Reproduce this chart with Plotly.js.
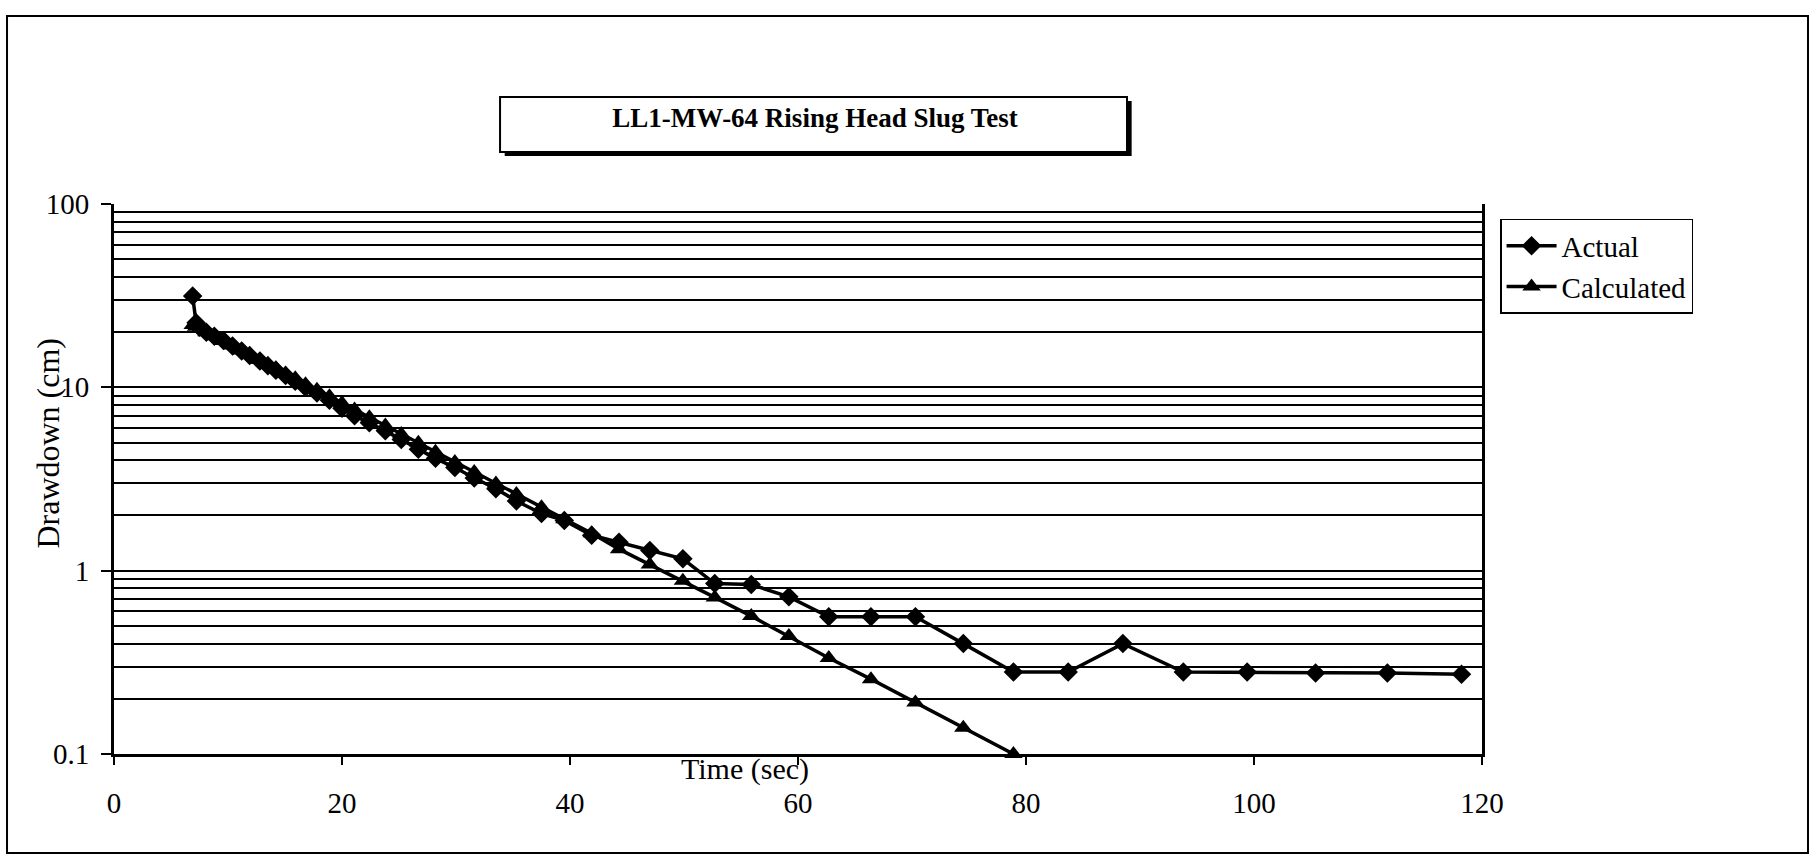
<!DOCTYPE html>
<html><head><meta charset="utf-8">
<script src="https://cdn.plot.ly/plotly-3.0.1.min.js"></script>
<style>html,body{margin:0;padding:0;background:#fff}#chart{width:1815px;height:857px}</style>
</head><body><div id="chart"></div>
<script>
const chartTitle = "LL1-MW-64 Rising Head Slug Test";
const xTitle = "Time (sec)";
const yTitle = "Drawdown (cm)";
const seriesNames = ["Actual", "Calculated"];

const timeSec = [6.9, 7.2, 7.5, 8.1, 8.8, 9.6, 10.4, 11.2, 11.9, 12.8, 13.5, 14.2, 15.05, 15.9, 16.8, 17.8, 18.9, 20.0, 21.1, 22.4, 23.8, 25.2, 26.7, 28.2, 29.9, 31.6, 33.5, 35.3, 37.5, 39.5, 41.9, 44.3, 47.0, 49.9, 52.7, 55.9, 59.2, 62.7, 66.4, 70.3, 74.5, 78.9, 83.7, 88.5, 93.8, 99.4, 105.4, 111.7, 118.2];

const actualCm = [31.5, 22.5, 21.3, 20.0, 19.0, 18.0, 16.8, 15.8, 14.9, 13.9, 13.1, 12.4, 11.6, 10.8, 10.0, 9.3, 8.5, 7.7, 7.0, 6.4, 5.8, 5.2, 4.6, 4.1, 3.65, 3.2, 2.8, 2.4, 2.05, 1.88, 1.56, 1.43, 1.29, 1.16, 0.85, 0.84, 0.72, 0.56, 0.56, 0.56, 0.40, 0.28, 0.28, 0.40, 0.28, 0.28, 0.277, 0.277, 0.272];

const calculatedCm = [21.9, 21.4, 20.9, 20.0, 19.0, 17.9, 16.9, 15.9, 15.1, 14.1, 13.4, 12.7, 11.9, 11.2, 10.4, 9.70, 8.93, 8.22, 7.57, 6.87, 6.19, 5.57, 4.98, 4.45, 3.92, 3.45, 2.99, 2.62, 2.22, 1.91, 1.60, 1.31, 1.08, 0.88, 0.715, 0.565, 0.44, 0.334, 0.256, 0.191, 0.139, 0.100];

const xTickVals = [0, 20, 40, 60, 80, 100, 120];
const yTickVals = [0.1, 1, 10, 100];
const yTickText = ["0.1", "1", "10", "100"];

const FONT = "Liberation Serif, Times New Roman, serif";

const traces = [
  {
    x: timeSec, y: actualCm, name: seriesNames[0], type: "scatter", mode: "lines+markers",
    line: {color: "#000", width: 3.5},
    marker: {symbol: "diamond", size: 15, color: "#000"},
    cliponaxis: false
  },
  {
    x: timeSec.slice(0, calculatedCm.length), y: calculatedCm, name: seriesNames[1], type: "scatter", mode: "lines+markers",
    line: {color: "#000", width: 3.5},
    marker: {symbol: "triangle-up", size: 16, color: "#000"},
    cliponaxis: false
  }
];

const layout = {
  width: 1815, height: 857,
  margin: {l: 114, r: 333, t: 204, b: 103, pad: 0},
  paper_bgcolor: "#fff", plot_bgcolor: "#fff",
  font: {family: FONT, color: "#000", size: 29},
  title: {
    text: "<b>" + chartTitle + "</b>",
    font: {family: FONT, size: 27, color: "#000"},
    x: 0.449, xref: "container", xanchor: "center",
    y: 0.863, yref: "container", yanchor: "middle"
  },
  showlegend: true,
  legend: {
    x: 1.0132, y: 0.973, xanchor: "left", yanchor: "top",
    bgcolor: "#fff", bordercolor: "#000", borderwidth: 1.5,
    font: {family: FONT, size: 29, color: "#000"},
    itemwidth: 50, tracegroupgap: 0
  },
  xaxis: {
    type: "linear", range: [0, 120], tickvals: xTickVals,
    ticks: "outside", ticklen: 8, tickwidth: 1.5, tickcolor: "#000",
    showline: true, linecolor: "#000", linewidth: 3, mirror: false,
    showgrid: false, zeroline: false,
    tickfont: {family: FONT, size: 29, color: "#000"},
    ticklabelstandoff: 13
  },
  yaxis: {
    type: "log", range: [-1, 2], tickvals: yTickVals, ticktext: yTickText,
    ticks: "outside", ticklen: 10, tickwidth: 1.5, tickcolor: "#000",
    showline: true, linecolor: "#000", linewidth: 3, mirror: true,
    showgrid: true, gridcolor: "#000", gridwidth: 1.8,
    minor: {dtick: "D1", showgrid: true, gridcolor: "#000", gridwidth: 1.8, ticks: ""},
    zeroline: false,
    tickfont: {family: FONT, size: 29, color: "#000"},
    ticklabelstandoff: 6
  },
  annotations: [
    {text: xTitle, xref: "x", yref: "paper", x: 55.35, y: -0.027, xanchor: "center", yanchor: "middle",
     showarrow: false, font: {family: FONT, size: 30, color: "#000"}},
    {text: yTitle, xref: "paper", yref: "paper", x: -0.048, y: 0.565, xanchor: "center", yanchor: "middle",
     textangle: -90, showarrow: false, font: {family: FONT, size: 32, color: "#000"}}
  ],
  shapes: [
    {type: "rect", xref: "paper", yref: "paper", x0: -0.0782, x1: 1.2383, y0: -0.18, y1: 1.3418,
     line: {color: "#000", width: 2}, fillcolor: "rgba(0,0,0,0)", layer: "below"},
    {type: "rect", xref: "paper", yref: "paper", x0: 0.2856, x1: 0.7439, y0: 1.0872, y1: 1.1872,
     line: {color: "#000", width: 0}, fillcolor: "#000", layer: "above"},
    {type: "rect", xref: "paper", yref: "paper", x0: 0.2822, x1: 0.7405, y0: 1.0945, y1: 1.1945,
     line: {color: "#000", width: 2}, fillcolor: "#fff", layer: "above"}
  ]
};

Plotly.newPlot("chart", traces, layout, {displayModeBar: false, responsive: false});
</script>
</body></html>
